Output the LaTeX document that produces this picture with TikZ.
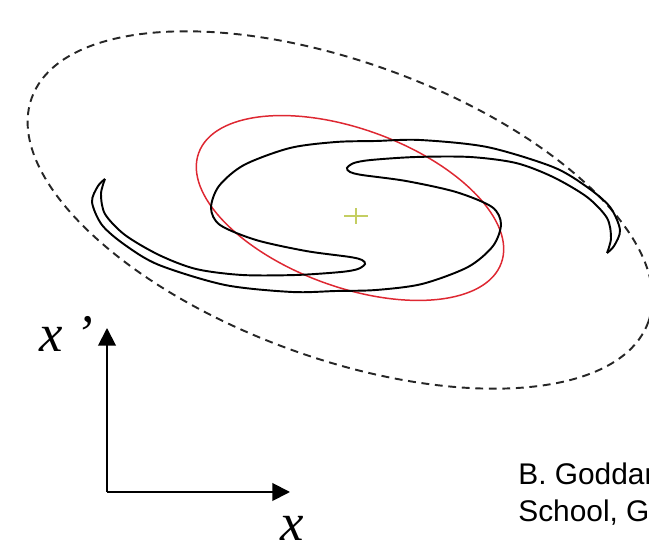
\documentclass[tikz,border=0pt]{standalone}
\usepackage{fontspec}
\setmainfont{Liberation Serif}
\newfontfamily\creditfont{Liberation Sans}
\usepackage{xcolor}
\usetikzlibrary{arrows.meta}
\definecolor{ellred}{RGB}{222,40,50}
\definecolor{crossgreen}{RGB}{196,206,98}

\begin{document}
\begin{tikzpicture}[x=0.02cm, y=0.02cm,
    galaxy/.style={line width=1.1pt},
    axis/.style={line width=1.1pt, -{Triangle[length=10pt,width=10pt]}},
    lbl/.style={font=\fontsize{30}{36}\selectfont\itshape, inner sep=0pt, anchor=base west},
    credit/.style={font=\creditfont\fontsize{17}{21}\selectfont, inner sep=0pt, anchor=base west}]
        \useasboundingbox (0,0) rectangle (649,550);
        \draw[black!85, line width=1.1pt, dash pattern=on 4.5pt off 3.2pt,
              rotate around={-20:(340,340)}] (340,340) ellipse [x radius=328, y radius=148];
        \draw[ellred, line width=0.85pt, rotate around={-20:(350,342)}]
              (350,342) ellipse [x radius=161, y radius=79];
        \begin{scope}[shift={(356,334)}]
        \foreach \r in {0,180}
            \draw[galaxy, rotate=\r] plot[smooth] coordinates {
                (251,-37) (258,-30) (264,-14) (254,9) (231,29) (197,49) (131,69)
                (64,76) (20,75) (-20,74) (-66,68) (-112,51) (-137,30) (-145,8)
                (-136,-9) (-100,-24) (-50,-35) (-6,-41) (6,-44) (9,-48) (2,-53)
                (-15,-56) (-60,-59) (-114,-59) (-160,-53) (-197,-39) (-231,-19)
                (-251,2) (-255,22) (-251,37)};
        \draw[crossgreen, line width=1.6pt] (-12,0) -- (12,0) (0,-8) -- (0,8);
        \end{scope}
        \coordinate (o) at (107,58);
        \coordinate (xend) at (290,58);
        \coordinate (yend) at (107,222);
        \draw[axis] (o) -- (xend);
        \draw[axis] (o) -- (yend);
        \node[lbl] (xlab) at (280,9) {x};
        \node[lbl] (xplab) at (39,198) {x ’};
        \node[credit] (cr1) at (518,65) {B. Goddar};
        \node[credit] (cr2) at (518,28) {School, G};
\end{tikzpicture}
\end{document}
